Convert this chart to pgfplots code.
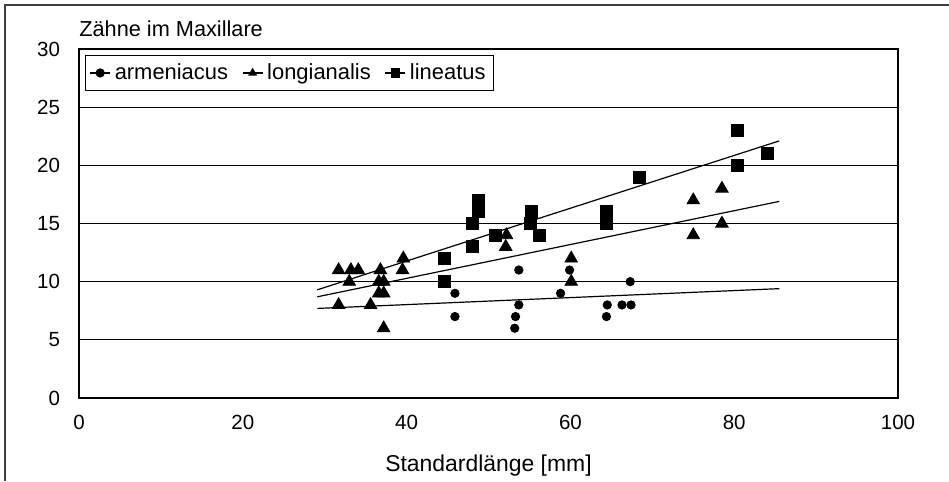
\documentclass[border=0pt]{standalone}
\usepackage{fontspec}
\setmainfont{Liberation Sans}
\usepackage{pgfplots}
\pgfplotsset{compat=1.18}

\begin{document}
\begin{tikzpicture}[x=1bp,y=1bp]
\useasboundingbox (0,0) rectangle (474.5,240.5);
\draw[line width=0.8bp,black!75] (2.5,0) -- (2.5,238) -- (474.5,238);
\begin{axis}[at={(39.5bp,41.5bp)},anchor=south west,scale only axis,
  width=409.5bp,height=174.5bp,
  xmin=0,xmax=100,ymin=0,ymax=30,
  xtick={0,20,...,100},ytick={0,5,...,30},
  major tick length=0pt,
  ymajorgrids,grid style={black,line width=0.6bp},
  axis line style={black,line width=0.6bp},
  tick label style={font=\fontsize{10.3}{12}\selectfont},
  /pgf/number format/assume math mode=true,
  yticklabel style={xshift=-6bp},
  xticklabel style={yshift=-5bp},
  clip=false,
  legend columns=3,
  legend style={at={(0.0073,0.983)},anchor=north west,draw=black,line width=0.6bp,
    font=\fontsize{11}{13}\selectfont,inner sep=2bp,row sep=0pt,
    /tikz/every even column/.append style={column sep=5bp}},
  legend image code/.code={\draw[sharp plot,mark repeat=2,mark phase=2] plot coordinates {(0bp,0bp) (5bp,0bp) (10bp,0bp)};},
  every legend image post/.style={mark size=2bp},
]
\addplot[only marks,mark=*,mark size=2.1bp,black] coordinates {
(45.9,9) (45.9,7) (53.7,11) (53.7,8) (53.3,7) (53.2,6) (58.8,9)
(59.9,11) (64.5,8) (64.4,7) (66.3,8) (67.4,8) (67.3,10)};
\addlegendentry{armeniacus}
\addplot[only marks,mark=triangle*,mark size=3.6bp,black] coordinates {
(31.7,11) (33.2,11) (34.1,11) (33.0,10) (31.7,8) (35.6,8) (36.8,11)
(36.6,10) (37.2,10) (36.6,9) (37.2,9) (37.2,6) (39.6,12) (39.5,11)
(52.2,14) (52.1,13) (60.1,12) (60.1,10) (75.0,17) (75.0,14) (78.5,18) (78.5,15)};
\addlegendentry{longianalis}
\addplot[only marks,mark=square*,mark size=3.0bp,black] coordinates {
(44.6,12) (44.6,10) (48.0,13) (48.0,15) (48.8,16) (48.8,17) (50.8,14)
(55.2,16) (55.1,15) (56.2,14) (64.4,16) (64.4,15) (68.4,19) (80.4,23)
(80.4,20) (84.0,21)};
\addlegendentry{lineatus}
\addplot[black,line width=0.6bp,no marks,forget plot] coordinates {(29.1,7.7) (85.5,9.4)};
\addplot[black,line width=0.6bp,no marks,forget plot] coordinates {(29.1,8.7) (85.5,16.9)};
\addplot[black,line width=0.6bp,no marks,forget plot] coordinates {(29.1,9.3) (85.5,22.1)};
\node[anchor=base west,font=\fontsize{10.9}{12}\selectfont,inner sep=0pt] at (rel axis cs:0,1) [yshift=6bp] {Zähne im Maxillare};
\node[anchor=center,font=\fontsize{11.5}{13}\selectfont,inner sep=0pt] at (rel axis cs:0.5,0) [yshift=-34bp] {Standardlänge [mm]};
\end{axis}
\end{tikzpicture}
\end{document}
